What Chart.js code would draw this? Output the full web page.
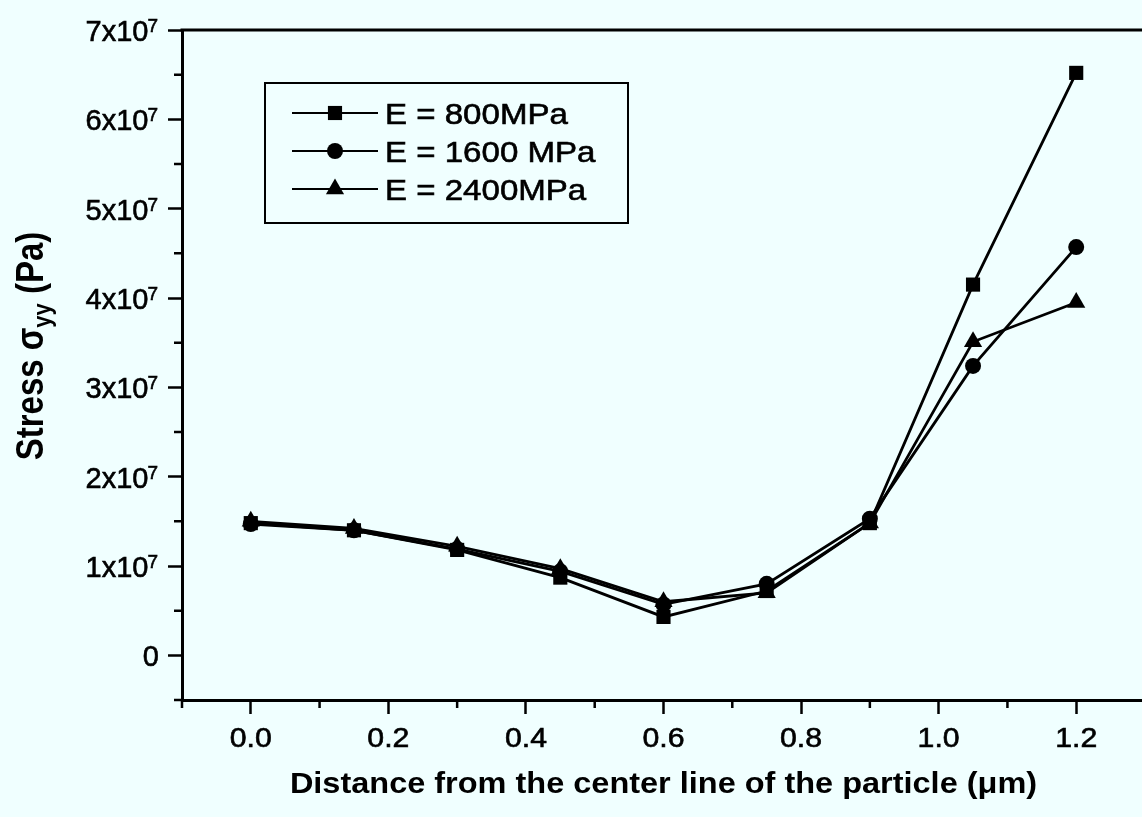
<!DOCTYPE html>
<html>
<head>
<meta charset="utf-8">
<script src="https://cdn.jsdelivr.net/npm/chart.js@4.4.1/dist/chart.umd.min.js"></script>
<style>
  html, body { margin: 0; padding: 0; background: #F0FFFF; overflow: hidden; }
  #c { display: block; }
</style>
</head>
<body>
<canvas id="c" width="1146" height="817" style="width:1146px;height:817px"></canvas>
<script>
// ---- data ----
const xValues = [0, 0.15, 0.3, 0.45, 0.6, 0.75, 0.9, 1.05, 1.2];
const stressE800  = [1.48e7, 1.40e7, 1.18e7, 0.87e7, 0.43e7, 0.72e7, 1.48e7, 4.15e7, 6.52e7];
const stressE1600 = [1.47e7, 1.40e7, 1.19e7, 0.94e7, 0.57e7, 0.80e7, 1.53e7, 3.24e7, 4.57e7];
const stressE2400 = [1.50e7, 1.42e7, 1.22e7, 0.97e7, 0.60e7, 0.70e7, 1.48e7, 3.51e7, 3.95e7];
const seriesLabels = ['E = 800MPa', 'E = 1600 MPa', 'E = 2400MPa'];

const xTickValues = [0, 0.2, 0.4, 0.6, 0.8, 1.0, 1.2];
const xTickLabels = ['0.0', '0.2', '0.4', '0.6', '0.8', '1.0', '1.2'];
const xMinorTicks = [-0.1, 0.1, 0.3, 0.5, 0.7, 0.9, 1.1, 1.3];
const yTickValues = [0, 1e7, 2e7, 3e7, 4e7, 5e7, 6e7, 7e7];
const yTickMantissas = ['0', '1x10', '2x10', '3x10', '4x10', '5x10', '6x10', '7x10'];
const yTickExponents = ['', '7', '7', '7', '7', '7', '7', '7'];
const yMinorTicks = [-0.5e7, 0.5e7, 1.5e7, 2.5e7, 3.5e7, 4.5e7, 5.5e7, 6.5e7];
const xTitle = 'Distance from the center line of the particle (\u03BCm)';
const yTitleParts = ['Stress \u03C3', 'yy', ' (Pa)'];

const toPoints = ys => xValues.map((x, i) => ({ x: x, y: ys[i] }));
const FONT = '"Liberation Sans", Arial, Helvetica, sans-serif';

function stretchedText(ctx, text, x, y, font, align, sx, stroke) {
  ctx.save();
  ctx.font = font;
  ctx.translate(x, y);
  ctx.scale(sx, 1);
  ctx.textAlign = align;
  ctx.textBaseline = 'alphabetic';
  ctx.fillText(text, 0, 0);
  if (stroke) { ctx.lineWidth = stroke; ctx.strokeText(text, 0, 0); }
  ctx.restore();
}

function drawMarker(ctx, style, r, x, y) {
  ctx.beginPath();
  if (style === 'rect') {
    const s = r * Math.SQRT1_2;
    ctx.rect(x - s, y - s, 2 * s, 2 * s);
  } else if (style === 'circle') {
    ctx.arc(x, y, r, 0, Math.PI * 2);
  } else {
    ctx.moveTo(x, y - r);
    ctx.lineTo(x + r * Math.sin(Math.PI / 3), y + r * 0.5);
    ctx.lineTo(x - r * Math.sin(Math.PI / 3), y + r * 0.5);
    ctx.closePath();
  }
  ctx.fill();
}

const bgPlugin = {
  id: 'bg',
  beforeDraw(chart) {
    const ctx = chart.ctx;
    ctx.save();
    ctx.fillStyle = '#F0FFFF';
    ctx.fillRect(0, 0, chart.width, chart.height);
    ctx.restore();
  }
};

const decorPlugin = {
  id: 'decor',
  afterDraw(chart) {
    const ctx = chart.ctx;
    const ca = chart.chartArea;
    const xs = chart.scales.x, ys = chart.scales.y;
    ctx.save();
    ctx.fillStyle = '#000';
    ctx.strokeStyle = '#000';
    // top / right frame lines
    ctx.lineWidth = 3;
    ctx.beginPath();
    ctx.moveTo(ca.left - 1.5, ca.top);
    ctx.lineTo(ca.right + 2, ca.top);
    ctx.moveTo(ca.right, ca.top);
    ctx.lineTo(ca.right, ca.bottom);
    ctx.stroke();
    // minor ticks
    ctx.lineWidth = 2.5;
    ctx.beginPath();
    xMinorTicks.forEach(v => {
      const px = xs.getPixelForValue(v);
      ctx.moveTo(px, ca.bottom);
      ctx.lineTo(px, ca.bottom + 8);
    });
    yMinorTicks.forEach(v => {
      const py = ys.getPixelForValue(v);
      ctx.moveTo(ca.left, py);
      ctx.lineTo(ca.left - 8, py);
    });
    ctx.stroke();
    // x tick labels
    xTickValues.forEach((v, i) => {
      stretchedText(ctx, xTickLabels[i], xs.getPixelForValue(v), ca.bottom + 47,
        '27px ' + FONT, 'center', 1.12, 0.6);
    });
    // y tick labels with superscript exponent
    const R = 158;
    yTickValues.forEach((v, i) => {
      const py = ys.getPixelForValue(v);
      ctx.font = '19px ' + FONT;
      const w2 = yTickExponents[i] ? ctx.measureText(yTickExponents[i]).width : 0;
      ctx.font = '29px ' + FONT;
      ctx.textAlign = 'right';
      ctx.textBaseline = 'alphabetic';
      ctx.lineWidth = 0.6;
      ctx.fillText(yTickMantissas[i], R - w2 + 1, py + 11);
      ctx.strokeText(yTickMantissas[i], R - w2 + 1, py + 11);
      if (yTickExponents[i]) {
        ctx.font = '19px ' + FONT;
        ctx.textAlign = 'left';
        ctx.fillText(yTickExponents[i], R - w2, py + 2);
        ctx.strokeText(yTickExponents[i], R - w2, py + 2);
      }
    });
    // x title
    stretchedText(ctx, xTitle, (ca.left + ca.right) / 2, 793, 'bold 29px ' + FONT, 'center', 1.12);
    // y title (rotated, with subscript)
    ctx.save();
    ctx.translate(29, 346);
    ctx.rotate(-Math.PI / 2);
    ctx.scale(1, 1.15);
    const fMain = 'bold 33px ' + FONT, fSub = 'bold 22px ' + FONT;
    ctx.font = fMain; const w0 = ctx.measureText(yTitleParts[0]).width;
    ctx.font = fSub;  const w1 = ctx.measureText(yTitleParts[1]).width;
    ctx.font = fMain; const w3 = ctx.measureText(yTitleParts[2]).width;
    let cx = -(w0 + w1 + w3) / 2;
    ctx.textAlign = 'left';
    ctx.textBaseline = 'alphabetic';
    ctx.font = fMain; ctx.fillText(yTitleParts[0], cx, 12); cx += w0;
    ctx.font = fSub;  ctx.fillText(yTitleParts[1], cx, 19); cx += w1;
    ctx.font = fMain; ctx.fillText(yTitleParts[2], cx, 12);
    ctx.restore();
    // legend box
    ctx.lineWidth = 2;
    ctx.strokeRect(265, 83, 363, 140);
    const rows = [113, 151, 189];
    chart.data.datasets.forEach((ds, i) => {
      const y = rows[i];
      ctx.lineWidth = 2;
      ctx.beginPath();
      ctx.moveTo(292, y);
      ctx.lineTo(378, y);
      ctx.stroke();
      drawMarker(ctx, ds.pointStyle, ds.pointRadius, 335, y);
      stretchedText(ctx, ds.label, 385, y + 10.5, '29px ' + FONT, 'left', 1.14, 0.6);
    });
    ctx.restore();
  }
};

const mkDataset = (label, ys, style, r) => ({
  label: label,
  data: toPoints(ys),
  borderColor: '#000',
  backgroundColor: '#000',
  borderWidth: 2.8,
  pointStyle: style,
  pointRadius: r,
  pointHoverRadius: r,
  pointBackgroundColor: '#000',
  pointBorderColor: '#000',
  pointBorderWidth: 0,
  tension: 0,
  fill: false
});

new Chart(document.getElementById('c'), {
  type: 'line',
  data: {
    datasets: [
      mkDataset(seriesLabels[0], stressE800, 'rect', 10),
      mkDataset(seriesLabels[1], stressE1600, 'circle', 8),
      mkDataset(seriesLabels[2], stressE2400, 'triangle', 10.5)
    ]
  },
  options: {
    responsive: false,
    maintainAspectRatio: false,
    devicePixelRatio: 1,
    animation: false,
    events: [],
    layout: { autoPadding: false, padding: { left: 0, top: 30, right: 1, bottom: 0 } },
    plugins: { legend: { display: false }, tooltip: { enabled: false } },
    scales: {
      x: {
        type: 'linear',
        min: -0.1,
        max: 1.3,
        afterBuildTicks: s => { s.ticks = xTickValues.map(v => ({ value: v })); },
        afterFit: s => { s.height = 117; s.paddingLeft = 0; s.paddingRight = 0; },
        ticks: { display: false },
        grid: { display: true, drawOnChartArea: false, drawTicks: true, tickLength: 14, tickWidth: 2.5, tickColor: '#000' },
        border: { display: true, color: '#000', width: 3 }
      },
      y: {
        type: 'linear',
        min: -0.5e7,
        max: 7e7,
        afterBuildTicks: s => { s.ticks = yTickValues.map(v => ({ value: v })); },
        afterFit: s => { s.width = 182; s.paddingTop = 0; s.paddingBottom = 0; },
        ticks: { display: false },
        grid: { display: true, drawOnChartArea: false, drawTicks: true, tickLength: 14, tickWidth: 2.5, tickColor: '#000' },
        border: { display: true, color: '#000', width: 3 }
      }
    }
  },
  plugins: [bgPlugin, decorPlugin]
});
</script>
</body>
</html>
